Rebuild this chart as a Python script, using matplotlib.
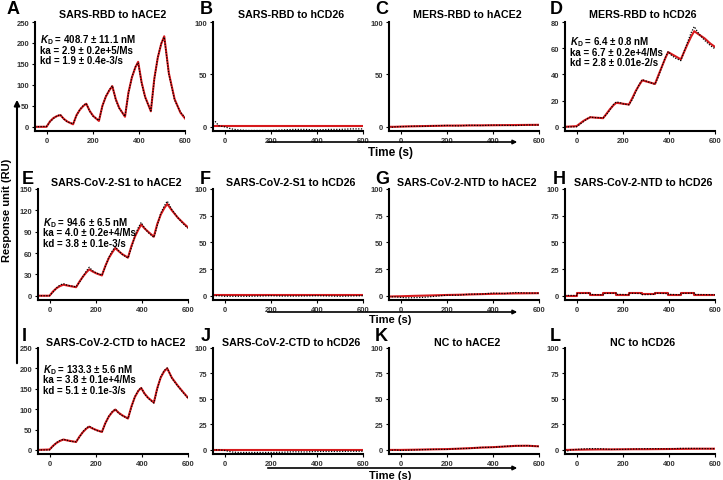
import matplotlib
matplotlib.use("Agg")
import matplotlib.pyplot as plt

plt.rcParams['font.family'] = ['Liberation Sans', 'DejaVu Sans']
plt.rcParams['mathtext.fontset'] = 'custom'
plt.rcParams['mathtext.it'] = 'Liberation Sans:italic:bold'
plt.rcParams['mathtext.rm'] = 'Liberation Sans:bold'
plt.rcParams['mathtext.bf'] = 'Liberation Sans:bold'

# ---- data ----
T = [-50, 0, 15, 30, 45, 60, 75, 90, 115, 130, 145, 160, 172, 187, 202, 227, 242, 257,
     272, 285, 300, 315, 340, 355, 370, 385, 397, 412, 427, 452, 467, 482, 497, 510,
     530, 555, 580, 600]
TF = [-50, -40, -25, 0, 30, 60, 100, 150, 200, 250, 300, 350, 400, 450, 500, 550, 600]
TH = [-50, 0, 0, 60, 60, 115, 115, 172, 172, 227, 227, 285, 285, 340, 340, 397, 397,
      452, 452, 510, 510, 600]

A_fit = [0, 0, 13, 21, 25.5, 28, 19, 12.5, 6, 28, 41, 50, 55, 38, 26, 14, 50, 72, 87, 97,
         66, 45, 24, 82, 118, 142, 155, 106, 72, 37, 115, 165, 198, 216, 128, 66, 34, 20]
A_obs = [0, 1, 12, 20, 26, 29, 18, 12, 7, 27, 42, 51, 56, 37, 25, 15, 49, 73, 88, 98,
         64, 44, 25, 80, 119, 143, 153, 104, 70, 38, 113, 166, 199, 214, 126, 64, 35, 22]
B_fit = [0.3, 0.3, 0.3, 0.3, 0.3, 0.3, 0.3, 0.3, 0.3, 0.3, 0.3, 0.3, 0.3, 0.3, 0.3, 0.3, 0.3]
B_obs = [3, 5, 1, 0, -2, -3, -3.5, -3.5, -3.5, -3, -2.5, -2.5, -3, -2.5, -2.5, -2, -2]
C_fit = [0, 0, 0, 0.2, 0.4, 0.5, 0.7, 0.9, 1.1, 1.2, 1.3, 1.4, 1.5, 1.6, 1.7, 1.8, 1.9]
C_obs = [0, -0.5, 0, 0.2, 0.3, 0.6, 0.5, 1, 1.3, 0.9, 1.5, 1.2, 1.6, 1.4, 1.2, 1.8, 1.7]
D_fit = [0, 0.5, 2.5, 4.5, 6, 7.3, 7.1, 6.9, 6.6, 10, 13.5, 16.5, 18.3, 18, 17.6, 17, 22,
         27.5, 32, 35.5, 34.7, 34, 32.7, 39.5, 46, 52.5, 57, 55.5, 54, 51.5, 57.5, 63.5, 69,
         73, 70.5, 67.5, 63.5, 61]
D_obs = [0, 0, 2, 4, 6, 7.5, 7, 7, 6.8, 9.5, 13, 17, 19, 18.5, 17.5, 16.8, 21, 27, 32.5,
         36, 35, 34, 32.5, 38.5, 46, 53, 57.5, 54.5, 52.5, 50.5, 58, 65, 72, 76.5, 71, 66,
         62, 59.5]
E_fit = [0, 0, 6, 10.5, 13.5, 15.5, 14.5, 13.5, 12, 20, 27, 33, 37, 34, 31.5, 28.5, 42, 53,
         61, 67, 62.5, 58.5, 53.5, 70, 83, 93, 100, 94.5, 90, 83, 101, 114, 123, 129, 120,
         110, 102, 96]
E_obs = [0, 0, 5, 11, 15, 17, 15, 14, 12.5, 19, 27, 35, 40, 35, 32, 29, 41, 54, 63, 69, 63,
         58, 53, 68, 84, 96, 103, 95, 89, 82, 99, 116, 126, 133, 121, 110, 101, 95]
F_fit = [0.4, 0.4, 0.4, 0.4, 0.4, 0.4, 0.4, 0.4, 0.4, 0.4, 0.4, 0.4, 0.4, 0.4, 0.4, 0.4, 0.4]
F_obs = [0, 0, 0, -0.5, -0.5, -0.5, -0.5, -0.3, 0, -0.3, -0.3, -0.2, 0, -0.2, -0.5, -0.2, 0]
G_fit = [-0.8, -0.7, -0.6, -0.5, -0.3, -0.1, 0.1, 0.4, 0.7, 0.9, 1.2, 1.5, 1.8, 2.0, 2.2,
         2.3, 2.4]
G_obs = [-0.5, -1, -1, -1.5, -2, -1.8, -1.5, -0.5, 0.5, 0.5, 1.5, 1.5, 2.5, 2, 3, 2.5, 2.4]
H_fit = [0, 0, 2.3, 2.3, 1, 1, 2.3, 2.3, 1.1, 1.1, 2.2, 2.2, 1.2, 1.2, 2.2, 2.2, 1.1, 1.1,
         2.3, 2.3, 1, 1]
H_obs = [0.3, 0.2, 2, 2.5, 1.2, 0.8, 2.1, 2.4, 1.3, 1.0, 2.4, 2.0, 1.0, 1.3, 2.4, 2.0, 1.3,
         0.9, 2.1, 2.5, 1.2, 0.9]
I_fit = [0, 1, 10, 17, 22, 25.5, 23.5, 22, 19.5, 33, 44, 52.5, 57, 52.5, 49, 44, 66, 82, 93,
         99, 91, 85, 77, 107, 130, 145, 152, 138, 128, 116, 152, 178, 193, 200, 177, 158,
         141, 128]
I_obs = [0, 0, 9, 18, 23, 26, 24, 21, 20, 32, 45, 54, 58, 53, 48, 44, 65, 83, 94, 100, 90,
         84, 77, 105, 131, 146, 153, 137, 127, 115, 150, 179, 195, 201, 176, 157, 140, 127]
J_fit = [0.4, 0.4, 0.4, 0.4, 0.4, 0.4, 0.4, 0.4, 0.4, 0.4, 0.4, 0.4, 0.4, 0.4, 0.4, 0.4, 0.4]
J_obs = [0, 0, 0, -0.5, -2, -2.5, -2.5, -2.5, -2.5, -2.3, -1.8, -2, -1.5, -1.5, -1.5, -1.3,
         -1.3]
K_fit = [0, 0, 0, 0, 0.1, 0.2, 0.4, 0.6, 0.8, 1.2, 1.7, 2.3, 2.7, 3.3, 4.0, 4.1, 3.5]
K_obs = [0, -0.5, 0, -0.5, -0.3, 0, 0.3, 0.6, 0.5, 1.3, 1.5, 2.5, 2.5, 3.5, 4, 4.2, 3.4]
L_fit = [0, 0, 0.1, 0.2, 0.3, 0.4, 0.5, 0.5, 0.6, 0.7, 0.7, 0.8, 0.9, 1.0, 1.1, 1.2, 1.2]
L_obs = [0.5, -1, 0, 0.5, 1, 1.3, 1.2, 0.5, 0.6, 0.9, 1.2, 1.2, 1.0, 1.5, 1.5, 1.3, 1.2]

titles = ["SARS-RBD to hACE2", "SARS-RBD to hCD26", "MERS-RBD to hACE2", "MERS-RBD to hCD26",
          "SARS-CoV-2-S1 to hACE2", "SARS-CoV-2-S1 to hCD26", "SARS-CoV-2-NTD to hACE2",
          "SARS-CoV-2-NTD to hCD26", "SARS-CoV-2-CTD to hACE2", "SARS-CoV-2-CTD to hCD26",
          "NC to hACE2", "NC to hCD26"]
letters = list("ABCDEFGHIJKL")
yticks = [[0, 50, 100, 150, 200, 250], [0, 50, 100], [0, 50, 100], [0, 20, 40, 60, 80],
          [0, 30, 60, 90, 120, 150], [0, 25, 50, 75, 100], [0, 25, 50, 75, 100],
          [0, 25, 50, 75, 100], [0, 50, 100, 150, 200, 250], [0, 25, 50, 75, 100],
          [0, 25, 50, 75, 100], [0, 25, 50, 75, 100]]
xticks = [0, 200, 400, 600]
series = [(T, A_fit, A_obs), (TF, B_fit, B_obs), (TF, C_fit, C_obs), (T, D_fit, D_obs),
          (T, E_fit, E_obs), (TF, F_fit, F_obs), (TF, G_fit, G_obs), (TH, H_fit, H_obs),
          (T, I_fit, I_obs), (TF, J_fit, J_obs), (TF, K_fit, K_obs), (TF, L_fit, L_obs)]
annotations = {
    0: ["$K_\\mathrm{D}$ = 408.7 ± 11.1 nM", "ka = 2.9 ± 0.2e+5/Ms", "kd = 1.9 ± 0.4e-3/s"],
    3: ["$K_\\mathrm{D}$ = 6.4 ± 0.8 nM", "ka = 6.7 ± 0.2e+4/Ms", "kd = 2.8 ± 0.01e-2/s"],
    4: ["$K_\\mathrm{D}$ = 94.6 ± 6.5 nM", "ka = 4.0 ± 0.2e+4/Ms", "kd = 3.8 ± 0.1e-3/s"],
    8: ["$K_\\mathrm{D}$ = 133.3 ± 5.6 nM", "ka = 3.8 ± 0.1e+4/Ms", "kd = 5.1 ± 0.1e-3/s"],
}

# ---- layout (pixels) ----
W, H = 723, 481
fig = plt.figure(figsize=(W / 100, H / 100), dpi=100)
row_tb = [(23, 132), (190, 301), (349, 455)]
title_y = [15, 183, 343]
letter_y = [10, 180, 337]
col_left = [[35, 213, 389, 565], [38, 213, 389, 565], [38, 213, 389, 565]]
axw = 150
letter_x = [[7, 200, 375, 550], [22, 200, 375, 553], [22, 201, 375, 550]]
annot_y = {0: 40, 3: 42, 4: 223, 8: 370}

for i in range(12):
    r, c = divmod(i, 4)
    top, bot = row_tb[r]
    left = col_left[r][c]
    ax = fig.add_axes([left / W, 1 - bot / H, axw / W, (bot - top) / H])
    t, fit, obs = series[i]
    ax.plot(t, fit, color='#d7191c', lw=1.5, zorder=2)
    ax.plot(t, obs, color='black', lw=0.9, ls=(0, (1, 1.2)), zorder=3)
    ymax = yticks[i][-1]
    ax.set_ylim(-0.04 * ymax, ymax)
    ax.set_xlim(-50, 600)
    ax.set_yticks(yticks[i])
    ax.set_xticks(xticks)
    for s in ['top', 'right']:
        ax.spines[s].set_visible(False)
    for s in ['left', 'bottom']:
        ax.spines[s].set_linewidth(1.5)
    ax.tick_params(axis='both', length=2.5, width=0.8, pad=1.5, labelsize=5.5,
                   labelcolor='#333333')
    for lab in ax.get_xticklabels() + ax.get_yticklabels():
        lab.set_fontweight('bold')
    fig.text((left + axw / 2 + 3) / W, 1 - title_y[r] / H, titles[i], ha='center',
             va='center', fontsize=7.7, fontweight='bold')
    fig.text(letter_x[r][c] / W, 1 - letter_y[r] / H, letters[i], ha='left', va='center',
             fontsize=13, fontweight='bold')
    if i in annotations:
        y0 = annot_y[i]
        for k, line in enumerate(annotations[i]):
            fig.text((left + 5) / W, 1 - (y0 + k * 10.5) / H, line, ha='left', va='center',
                     fontsize=7, fontweight='bold')

# axis labels and arrows
fig.text(7 / W, 1 - 210 / H, "Response unit (RU)", rotation=90, ha='center', va='center',
         fontsize=8, fontweight='bold')
fig.patches.append(matplotlib.patches.FancyArrowPatch(
    (17 / W, 1 - 367 / H), (17 / W, 1 - 98 / H), transform=fig.transFigure,
    arrowstyle='-|>', mutation_scale=8, lw=1.5, color='black'))
for ya, yt, fs in [(143, 153, 8.5), (313, 320, 8), (469, 476, 8)]:
    fig.patches.append(matplotlib.patches.FancyArrowPatch(
        (265 / W, 1 - ya / H), (520 / W, 1 - ya / H), transform=fig.transFigure,
        arrowstyle='-|>', mutation_scale=6, lw=1.2, color='black'))
    fig.text(390 / W, 1 - yt / H, "Time (s)", ha='center', va='center', fontsize=fs,
             fontweight='bold')

fig.savefig("out.png", dpi=100)
